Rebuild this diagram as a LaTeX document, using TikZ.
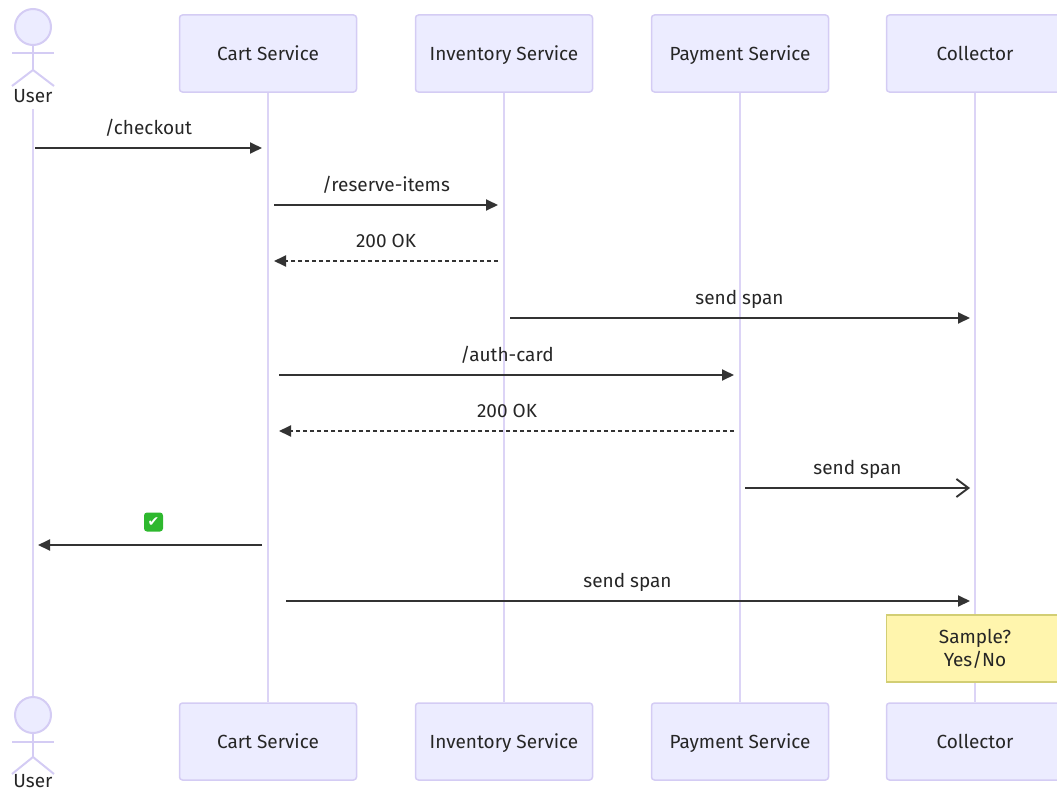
\documentclass[tikz,border=0pt]{standalone}
\usepackage{fontspec}
\setmainfont{Fira Sans}
\newfontfamily\symfont{DejaVu Sans}
\usetikzlibrary{arrows.meta}
\definecolor{actorfill}{HTML}{ECECFF}
\definecolor{actorborder}{HTML}{D4CCF4}
\definecolor{lifecol}{HTML}{DCD4F6}
\definecolor{msgcol}{HTML}{333333}
\definecolor{notefill}{HTML}{FFF5AD}
\definecolor{noteborder}{HTML}{D2CE74}
\definecolor{okgreen}{HTML}{2EB82E}
\tikzstyle{txt} = [font={\fontsize{19}{23}\selectfont}, text=black!85]
\tikzstyle{actor} = [txt, draw=actorborder, fill=actorfill, line width=1.5pt, rounded corners=3pt, minimum width=177pt, minimum height=77pt, text height=18pt, text depth=4pt]
\tikzstyle{stick} = [draw=actorborder, line width=2pt]
\tikzstyle{head} = [stick, fill=actorfill, circle, minimum size=36pt, inner sep=0pt]
\tikzstyle{life} = [draw=lifecol, line width=2pt]
\tikzstyle{msg} = [draw=msgcol, line width=1.9pt, -{Triangle[length=12pt,width=11pt]}]
\tikzstyle{reply} = [msg, dash pattern=on 4pt off 3pt]
\tikzstyle{async} = [draw=msgcol, line width=1.9pt, -{Straight Barb[length=12pt,width=18pt]}]
\tikzstyle{lbl} = [txt, text height=13pt, text depth=4pt, yshift=18pt]
\tikzstyle{okbox} = [fill=okgreen, rounded corners=3pt, minimum size=19pt, inner sep=0pt, text=white, font={\symfont\fontsize{14}{14}\selectfont}]
\tikzstyle{note} = [txt, draw=noteborder, fill=notefill, line width=1.5pt, minimum width=177pt, minimum height=67pt, align=center]

\begin{document}
\begin{tikzpicture}[x=1pt,y=-1pt]
        \useasboundingbox (0,0) rectangle (1057,792);
        % participants, top row
        \node[head](uhead) at (33,27){};
        \draw[stick] (uhead.south) -- (33,70) coordinate (uhip);
        \draw[stick] (12,53) -- (54,53);
        \draw[stick] (12,86) -- (uhip) -- (54,86);
        \node[txt](user) at (33,96){User};
        \node[actor](cart) at (268,53.5){Cart Service};
        \node[actor](inv) at (504,53.5){Inventory Service};
        \node[actor](pay) at (740,53.5){Payment Service};
        \node[actor](coll) at (975,53.5){Collector};
        % participants, bottom row
        \node[head](uheadb) at (33,715){};
        \draw[stick] (uheadb.south) -- (33,757) coordinate (uhipb);
        \draw[stick] (12,742) -- (54,742);
        \draw[stick] (12,774) -- (uhipb) -- (54,774);
        \node[txt](userb) at (33,781){User};
        \node[actor](cartb) at (268,741.5){Cart Service};
        \node[actor](invb) at (504,741.5){Inventory Service};
        \node[actor](payb) at (740,741.5){Payment Service};
        \node[actor](collb) at (975,741.5){Collector};
        % lifelines
        \draw[life] ([yshift=-3pt]user.south) -- (uheadb.north);
        \draw[life] (cart.south) -- (cartb.north);
        \draw[life] (inv.south) -- (invb.north);
        \draw[life] (pay.south) -- (payb.north);
        \draw[life] (coll.south) -- (collb.north);
        % message rows
        \coordinate (r1) at (0,148);
        \coordinate (r2) at (0,205);
        \coordinate (r3) at (0,261);
        \coordinate (r4) at (0,318);
        \coordinate (r5) at (0,375);
        \coordinate (r6) at (0,431);
        \coordinate (r7) at (0,488);
        \coordinate (r8) at (0,545);
        \coordinate (r9) at (0,601);
        \draw[msg,shorten <=2pt,shorten >=6pt](user |- r1)--node[lbl,xshift=-2pt]{/checkout}(cart |- r1);
        \draw[msg,shorten <=6pt,shorten >=6pt](cart |- r2)--node[lbl]{/reserve-items}(inv |- r2);
        \draw[reply,shorten <=6pt,shorten >=6pt](inv |- r3)--node[lbl]{200 OK}(cart |- r3);
        \draw[msg,shorten <=6pt,shorten >=5pt](inv |- r4)--node[lbl]{send span}(coll |- r4);
        \draw[msg,shorten <=11pt,shorten >=6pt](cart |- r5)--node[lbl,xshift=3pt]{/auth-card}(pay |- r5);
        \draw[reply,shorten <=6pt,shorten >=11pt](pay |- r6)--node[lbl,xshift=3pt]{200 OK}(cart |- r6);
        \draw[async,shorten <=5pt,shorten >=5pt](pay |- r7)--node[lbl]{send span}(coll |- r7);
        \draw[msg,shorten <=6pt,shorten >=5pt](cart |- r8)--node[okbox,yshift=23pt,xshift=3pt]{✔}(user |- r8);
        \draw[msg,shorten <=18pt,shorten >=5pt](cart |- r9)--node[lbl,xshift=6pt]{send span}(coll |- r9);
        \node[note](sample) at (975,648.5){Sample?\\Yes/No};
      \end{tikzpicture}
\end{document}
